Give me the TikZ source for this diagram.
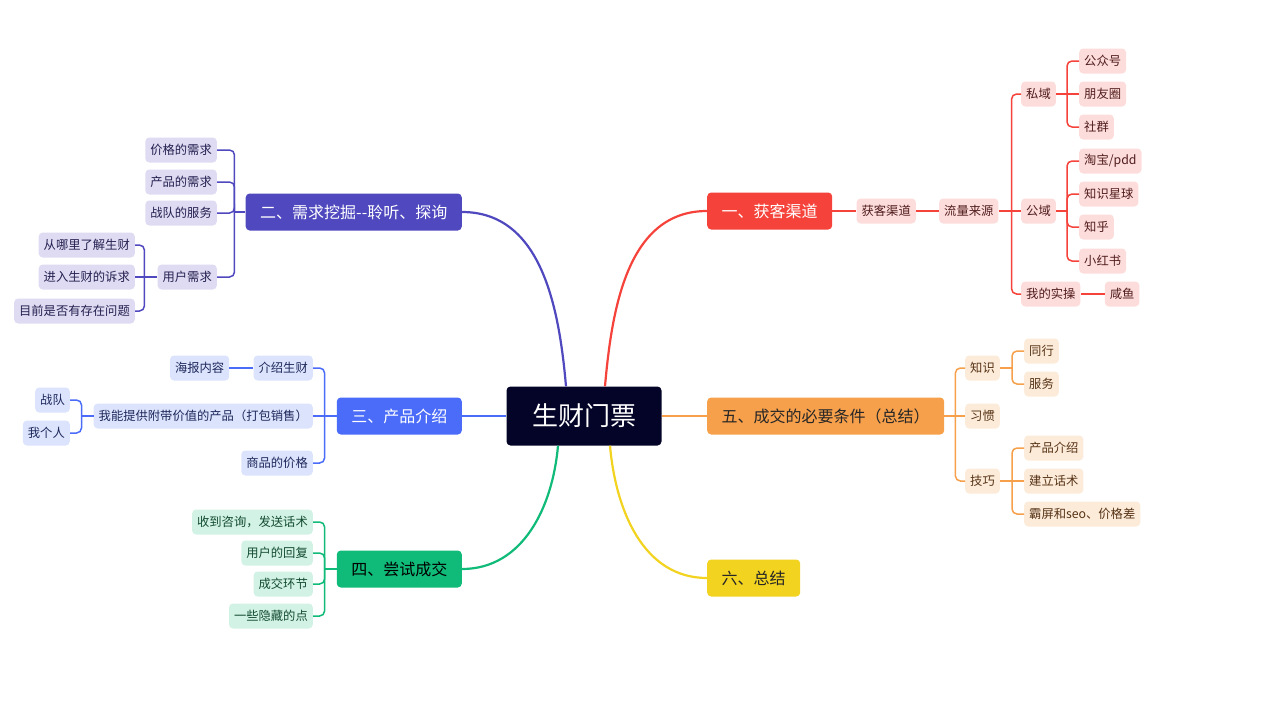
\documentclass[tikz,border=0pt]{standalone}
\usepackage{fontspec}
\setmainfont{Noto Sans CJK SC}
\usetikzlibrary{positioning}

% colores de las ramas
\definecolor{rootc}{RGB}{4,4,40}
\definecolor{redc}{RGB}{245,66,58}
\definecolor{redl}{RGB}{253,221,219}
\definecolor{redt}{RGB}{80,28,28}
\definecolor{purc}{RGB}{79,72,190}
\definecolor{purl}{RGB}{222,219,242}
\definecolor{purt}{RGB}{36,32,80}
\definecolor{bluc}{RGB}{74,108,248}
\definecolor{blul}{RGB}{219,227,253}
\definecolor{blut}{RGB}{30,40,90}
\definecolor{grnc}{RGB}{16,186,120}
\definecolor{grnl}{RGB}{209,242,228}
\definecolor{grnt}{RGB}{20,75,50}
\definecolor{orgc}{RGB}{246,160,76}
\definecolor{orgl}{RGB}{253,235,218}
\definecolor{orgt}{RGB}{85,50,20}
\definecolor{yelc}{RGB}{242,211,32}

\begin{document}
\begin{tikzpicture}[
        x=1pt, y=-1pt,
        % estilos de las cajas
        mainbox/.style={rectangle, rounded corners=4pt, fill=rootc, text=white, minimum width=155pt, minimum height=59pt, inner sep=0pt, font=\fontsize{26}{30}\selectfont},
        topicbox/.style={rectangle, rounded corners=4pt, minimum height=37pt, inner xsep=14.5pt, inner ysep=0pt, font=\fontsize{16}{19}\selectfont},
        leafbox/.style={rectangle, rounded corners=4pt, minimum height=25pt, inner xsep=5pt, inner ysep=0pt, font=\fontsize{12.3}{14}\selectfont},
        redleaf/.style={leafbox, fill=redl, text=redt},
        purleaf/.style={leafbox, fill=purl, text=purt},
        bluleaf/.style={leafbox, fill=blul, text=blut},
        grnleaf/.style={leafbox, fill=grnl, text=grnt},
        orgleaf/.style={leafbox, fill=orgl, text=orgt},
        topline/.style={line width=2.2pt, draw=#1},
        subline/.style={line width=1.5pt, draw=#1, rounded corners=5pt}
    ]
    \useasboundingbox (0,0) rectangle (1280,715);

    % nodo central y ramas principales
    \node[mainbox] (root) at (584,416) {生财门票};
    \node[topicbox, fill=redc, text=white, anchor=west] (huoke) at (707,211) {一、获客渠道};
    \node[topicbox, fill=purc, text=white, anchor=east] (xuqiu) at (462,212) {二、需求挖掘-{}-聆听、探询};
    \node[topicbox, fill=bluc, text=white, anchor=east] (chanpin) at (462,416) {三、产品介绍};
    \node[topicbox, fill=grnc, text=black, anchor=east] (changshi) at (462,569) {四、尝试成交};
    \node[topicbox, fill=orgc, text=black!85, anchor=west] (tiaojian) at (707,416) {五、成交的必要条件（总结）};
    \node[topicbox, fill=yelc, text=black!85, anchor=west] (zongjie) at (707,578) {六、总结};

    % rama roja
    \node[redleaf, right=24pt of huoke] (huoke_qd) {获客渠道};
    \node[redleaf, right=23pt of huoke_qd] (liuliang) {流量来源};
    \node[redleaf, anchor=west] (siyu) at (1021,94) {私域};
    \node[redleaf, anchor=west] (gongyu) at (1021,211) {公域};
    \node[redleaf, anchor=west] (shicao) at (1021,294) {我的实操};
    \node[redleaf, anchor=west] (gzh) at (1079,61) {公众号};
    \node[redleaf, anchor=west] (pyq) at (1079,94) {朋友圈};
    \node[redleaf, anchor=west] (shequn) at (1079,127) {社群};
    \node[redleaf, anchor=west] (taobao) at (1079,161) {淘宝/pdd};
    \node[redleaf, anchor=west] (xingqiu) at (1079,194) {知识星球};
    \node[redleaf, anchor=west] (zhihu) at (1079,227) {知乎};
    \node[redleaf, anchor=west] (xhs) at (1079,261) {小红书};
    \node[redleaf, right=24pt of shicao] (xianyu) {咸鱼};

    % rama morada
    \node[purleaf, anchor=east] (jiage_xq) at (217,150) {价格的需求};
    \node[purleaf, anchor=east] (chanpin_xq) at (217,182) {产品的需求};
    \node[purleaf, anchor=east] (zhandui_fw) at (217,213) {战队的服务};
    \node[purleaf, anchor=east] (yonghu_xq) at (217,277) {用户需求};
    \node[purleaf, anchor=east] (conghe) at (135,245) {从哪里了解生财};
    \node[purleaf, anchor=east] (jinru) at (135,277) {进入生财的诉求};
    \node[purleaf, anchor=east] (muqian) at (135,311) {目前是否有存在问题};

    % rama azul
    \node[bluleaf, anchor=east] (jieshao) at (313,368) {介绍生财};
    \node[bluleaf, anchor=east] (tigong) at (313,416) {我能提供附带价值的产品（打包销售）};
    \node[bluleaf, anchor=east] (jiage_sp) at (313,463) {商品的价格};
    \node[bluleaf, left=24pt of jieshao] (haibao) {海报内容};
    \node[bluleaf, anchor=east] (zhandui) at (70,400) {战队};
    \node[bluleaf, anchor=east] (wogeren) at (70,433) {我个人};

    % rama verde
    \node[grnleaf, anchor=east] (shoudao) at (313,522) {收到咨询，发送话术};
    \node[grnleaf, anchor=east] (huifu) at (313,553) {用户的回复};
    \node[grnleaf, anchor=east] (huanjie) at (313,584) {成交环节};
    \node[grnleaf, anchor=east] (yincang) at (313,616) {一些隐藏的点};

    % rama naranja
    \node[orgleaf, anchor=west] (zhishi) at (965,368) {知识};
    \node[orgleaf, anchor=west] (xiguan) at (965,416) {习惯};
    \node[orgleaf, anchor=west] (jiqiao) at (965,481) {技巧};
    \node[orgleaf, anchor=west] (tonghang) at (1024,351) {同行};
    \node[orgleaf, anchor=west] (fuwu) at (1024,384) {服务};
    \node[orgleaf, anchor=west] (cp_jieshao) at (1024,448) {产品介绍};
    \node[orgleaf, anchor=west] (huashu) at (1024,481) {建立话术};
    \node[orgleaf, anchor=west] (bapin) at (1024,514) {霸屏和seo、价格差};

    % puntos de las horquillas
    \coordinate (br_liuliang) at ([xshift=13]liuliang.east);
    \coordinate (br_siyu) at ([xshift=11]siyu.east);
    \coordinate (br_gongyu) at ([xshift=11]gongyu.east);
    \coordinate (br_xuqiu) at ([xshift=-11]xuqiu.west);
    \coordinate (br_yonghu) at ([xshift=-13]yonghu_xq.west);
    \coordinate (br_chanpin) at ([xshift=-12]chanpin.west);
    \coordinate (br_tigong) at ([xshift=-12]tigong.west);
    \coordinate (br_changshi) at ([xshift=-12]changshi.west);
    \coordinate (br_tiaojian) at ([xshift=11]tiaojian.east);
    \coordinate (br_zhishi) at ([xshift=12]zhishi.east);
    \coordinate (br_jiqiao) at ([xshift=12]jiqiao.east);

    % ---------------- conexiones del centro ---------------- %
    \draw[topline=redc] ([xshift=21]root.north) to[out=85, in=180] (huoke.west);
    \draw[topline=purc] ([xshift=-18]root.north) to[out=95, in=0] (xuqiu.east);
    \draw[topline=bluc] (root.west) -- (chanpin.east);
    \draw[topline=grnc] ([xshift=-26]root.south) to[out=-95, in=0] (changshi.east);
    \draw[topline=orgc] (root.east) -- (tiaojian.west);
    \draw[topline=yelc] ([xshift=26]root.south) to[out=-85, in=180] (zongjie.west);

    % rama roja
    \draw[subline=redc] (huoke.east) -- (huoke_qd.west);
    \draw[subline=redc] (huoke_qd.east) -- (liuliang.west);
    \draw[subline=redc] (liuliang.east) -- (br_liuliang);
    \draw[subline=redc] (br_liuliang) |- (siyu.west);
    \draw[subline=redc] (br_liuliang) -- (gongyu.west);
    \draw[subline=redc] (br_liuliang) |- (shicao.west);
    \draw[subline=redc] (siyu.east) -- (br_siyu);
    \draw[subline=redc] (br_siyu) |- (gzh.west);
    \draw[subline=redc] (br_siyu) -- (pyq.west);
    \draw[subline=redc] (br_siyu) |- (shequn.west);
    \draw[subline=redc] (gongyu.east) -- (br_gongyu);
    \draw[subline=redc] (br_gongyu) |- (taobao.west);
    \draw[subline=redc] (br_gongyu) |- (xingqiu.west);
    \draw[subline=redc] (br_gongyu) |- (zhihu.west);
    \draw[subline=redc] (br_gongyu) |- (xhs.west);
    \draw[subline=redc] (shicao.east) -- (xianyu.west);

    % rama morada
    \draw[subline=purc] (xuqiu.west) -- (br_xuqiu);
    \draw[subline=purc] (br_xuqiu) |- (jiage_xq.east);
    \draw[subline=purc] (br_xuqiu) |- (chanpin_xq.east);
    \draw[subline=purc] (br_xuqiu) |- (zhandui_fw.east);
    \draw[subline=purc] (br_xuqiu) |- (yonghu_xq.east);
    \draw[subline=purc] (yonghu_xq.west) -- (br_yonghu);
    \draw[subline=purc] (br_yonghu) |- (conghe.east);
    \draw[subline=purc] (br_yonghu) -- (jinru.east);
    \draw[subline=purc] (br_yonghu) |- (muqian.east);

    % rama azul
    \draw[subline=bluc] (chanpin.west) -- (br_chanpin);
    \draw[subline=bluc] (br_chanpin) |- (jieshao.east);
    \draw[subline=bluc] (br_chanpin) -- (tigong.east);
    \draw[subline=bluc] (br_chanpin) |- (jiage_sp.east);
    \draw[subline=bluc] (jieshao.west) -- (haibao.east);
    \draw[subline=bluc] (tigong.west) -- (br_tigong);
    \draw[subline=bluc] (br_tigong) |- (zhandui.east);
    \draw[subline=bluc] (br_tigong) |- (wogeren.east);

    % rama verde
    \draw[subline=grnc] (changshi.west) -- (br_changshi);
    \draw[subline=grnc] (br_changshi) |- (shoudao.east);
    \draw[subline=grnc] (br_changshi) |- (huifu.east);
    \draw[subline=grnc] (br_changshi) |- (huanjie.east);
    \draw[subline=grnc] (br_changshi) |- (yincang.east);

    % rama naranja
    \draw[subline=orgc] (tiaojian.east) -- (br_tiaojian);
    \draw[subline=orgc] (br_tiaojian) |- (zhishi.west);
    \draw[subline=orgc] (br_tiaojian) -- (xiguan.west);
    \draw[subline=orgc] (br_tiaojian) |- (jiqiao.west);
    \draw[subline=orgc] (zhishi.east) -- (br_zhishi);
    \draw[subline=orgc] (br_zhishi) |- (tonghang.west);
    \draw[subline=orgc] (br_zhishi) |- (fuwu.west);
    \draw[subline=orgc] (jiqiao.east) -- (br_jiqiao);
    \draw[subline=orgc] (br_jiqiao) |- (cp_jieshao.west);
    \draw[subline=orgc] (br_jiqiao) -- (huashu.west);
    \draw[subline=orgc] (br_jiqiao) |- (bapin.west);

\end{tikzpicture}
\end{document}
